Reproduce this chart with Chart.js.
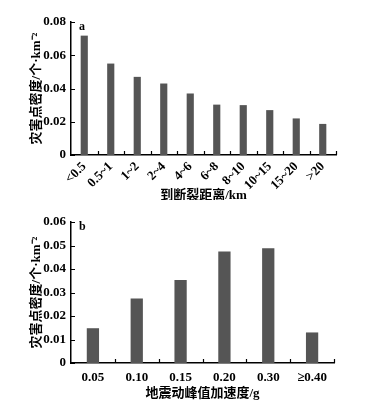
<!DOCTYPE html>
<html>
<head>
<meta charset="utf-8">
<script src="https://cdn.jsdelivr.net/npm/chart.js@4"></script>
<style>
  body { margin: 0; background: #fff; }
  .box { width: 367px; height: 200px; position: relative; }
</style>
</head>
<body>
<div class="box"><canvas id="chartA"></canvas></div>
<div class="box"><canvas id="chartB"></canvas></div>
<script>
// panel a: density vs distance to fault
const distLabels = ['<0.5', '0.5~1', '1~2', '2~4', '4~6', '6~8', '8~10', '10~15', '15~20', '>20'];
const distDensity = [0.0718, 0.055, 0.047, 0.043, 0.037, 0.0303, 0.030, 0.027, 0.022, 0.0187];
const distTicks = [0, 0.02, 0.04, 0.06, 0.08];

// panel b: density vs peak ground acceleration
const pgaLabels = ['0.05', '0.10', '0.15', '0.20', '0.30', '≥0.40'];
const pgaDensity = [0.0148, 0.0275, 0.0353, 0.0475, 0.0488, 0.013];
const pgaTicks = [0, 0.01, 0.02, 0.03, 0.04, 0.05, 0.06];

const yTitle = '灾害点密度/个·km⁻²';
const numFont = { family: '"Liberation Serif", serif', size: 13, weight: 'bold' };
const cjkFont = { family: '"Liberation Serif", "Noto Sans CJK SC", serif', size: 13, weight: 'bold' };

// inner tick marks + panel letter
const innerTicks = {
    id: 'innerTicks',
    afterDraw(chart, args, opts) {
        const ctx = chart.ctx;
        const x = chart.scales.x, y = chart.scales.y;
        const area = chart.chartArea;
        ctx.save();
        ctx.strokeStyle = '#000';
        ctx.lineWidth = 1.2;
        ctx.beginPath();
        y.ticks.forEach((t, i) => {
            const py = Math.round(y.getPixelForTick(i)) + 0.5;
            ctx.moveTo(area.left, py);
            ctx.lineTo(area.left + 4, py);
        });
        const n = x.ticks.length;
        const step = (area.right - area.left) / n;
        for (let i = 1; i <= n; i++) {
            const px = Math.round(x.getPixelForTick(i - 1) + step / 2) + 0.5;
            ctx.moveTo(px, area.bottom);
            ctx.lineTo(px, area.bottom - 4);
        }
        ctx.stroke();
        ctx.fillStyle = '#000';
        ctx.font = 'bold 12px "Liberation Serif", serif';
        ctx.textBaseline = 'top';
        ctx.fillText(opts.letter, area.left + 8, area.top - 1);
        ctx.restore();
    }
};

function makeChart(id, labels, values, ticks, xTitle, opt) {
    const ctx = document.getElementById(id).getContext('2d');
    return new Chart(ctx, {
        type: 'bar',
        data: {
            labels: labels,
            datasets: [{
                data: values,
                backgroundColor: '#555555',
                barPercentage: opt.barPct,
                categoryPercentage: 1
            }]
        },
        options: {
            responsive: false,
            animation: false,
            layout: { padding: { left: 0, right: opt.right, top: 22, bottom: 0 } },
            plugins: {
                legend: { display: false },
                tooltip: { enabled: false },
                innerTicks: { letter: opt.letter }
            },
            scales: {
                x: {
                    grid: { display: false, drawTicks: false },
                    border: { color: '#000', width: 1.5 },
                    ticks: {
                        color: '#000', font: numFont, padding: opt.xPad,
                        maxRotation: opt.rot, minRotation: opt.rot, autoSkip: false
                    },
                    title: { display: true, text: xTitle, color: '#000', font: cjkFont, padding: { top: 0, bottom: opt.titleBottom } },
                    afterFit: s => { s.height = opt.xH; }
                },
                y: {
                    min: 0, max: ticks[ticks.length - 1],
                    afterBuildTicks: s => { s.ticks = ticks.map(v => ({ value: v })); },
                    grid: { display: false, drawTicks: false },
                    border: { color: '#000', width: 1.5 },
                    ticks: {
                        color: '#000', font: numFont, padding: 5,
                        callback: v => v === 0 ? '0' : v.toFixed(2)
                    },
                    title: { display: true, text: yTitle, color: '#000', font: cjkFont, padding: { top: 29, bottom: 0 } },
                    afterFit: s => { s.width = 71; }
                }
            }
        },
        plugins: [innerTicks]
    });
}

document.getElementById('chartA').width = 367;
document.getElementById('chartA').height = 200;
document.getElementById('chartB').width = 367;
document.getElementById('chartB').height = 200;

makeChart('chartA', distLabels, distDensity, distTicks, '到断裂距离/km',
    { letter: 'a', barPct: 0.27, right: 31, rot: 45, xPad: 4, xH: 45, titleBottom: -3 });
makeChart('chartB', pgaLabels, pgaDensity, pgaTicks, '地震动峰值加速度/g',
    { letter: 'b', barPct: 0.28, right: 33, rot: 0, xPad: 7, xH: 37, titleBottom: -1 });
</script>
</body>
</html>
